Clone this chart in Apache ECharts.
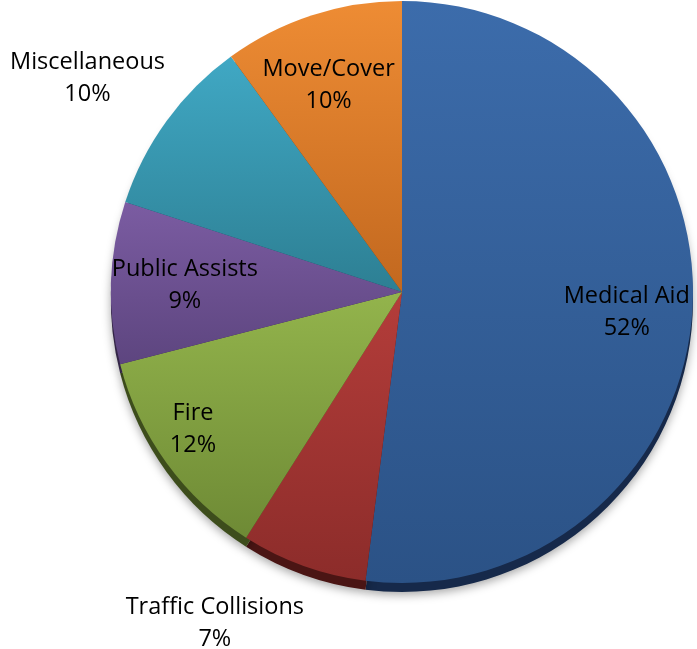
<!DOCTYPE html>
<html>
<head>
<meta charset="utf-8">
<script src="https://cdn.jsdelivr.net/npm/echarts@6/dist/echarts.min.js"></script>
<style>html,body{margin:0;padding:0;background:#fff;}#c{width:697px;height:649px;}</style>
</head>
<body>
<div id="c"></div>
<script>
var categories = ['Medical Aid', 'Traffic Collisions', 'Fire', 'Public Assists', 'Miscellaneous', 'Move/Cover'];
var values = [52, 7, 12, 9, 10, 10];
var topColors = ['#3c6cab', '#b43d3a', '#93b44c', '#7b5ca2', '#40a8c4', '#ee8c34'];
var bottomColors = ['#2b5286', '#8c2c2a', '#6e8a35', '#5d457f', '#2d7f93', '#c2681f'];
var rimColors = ['#16294a', '#4a1514', '#3d4d1c', '#332546', '#18475a', '#6e3a10'];
var outsideLabels = ['Miscellaneous', 'Traffic Collisions'];

var chart = echarts.init(document.getElementById('c'));
var R = 291;
var C = [402, 292];
var font = { fontFamily: 'Open Sans', fontSize: 23.5, lineHeight: 32, color: '#000' };

function grad(i) {
  return new echarts.graphic.LinearGradient(0, 0, 0, 1, [
    { offset: 0, color: topColors[i] }, { offset: 1, color: bottomColors[i] }
  ]);
}

var labelOffsets = {
  'Traffic Collisions': [-58, -27],
  'Miscellaneous': [-6, 10],
  'Fire': [-30, 7],
  'Medical Aid': [4, 6],
  'Public Assists': [4, 0],
  'Move/Cover': [-5, 4]
};

var mainData = categories.map(function (c, i) {
  return { name: c, value: values[i], itemStyle: { color: grad(i) } };
});
var rimData = categories.map(function (c, i) {
  return { name: c, value: values[i], itemStyle: { color: rimColors[i] } };
});
var insideData = categories.map(function (c, i) {
  return { name: c, value: values[i], label: { show: outsideLabels.indexOf(c) < 0, offset: labelOffsets[c] } };
});
var outsideData = categories.map(function (c, i) {
  return { name: c, value: values[i], label: { show: outsideLabels.indexOf(c) >= 0, offset: labelOffsets[c] } };
});

chart.setOption({
  animation: false,
  series: [
    {
      type: 'pie', center: [C[0], C[1] + 9], radius: R, startAngle: 90, silent: true,
      data: rimData, label: { show: false }, labelLine: { show: false },
      itemStyle: { shadowBlur: 10, shadowColor: 'rgba(0,0,0,0.35)', shadowOffsetY: 3 }
    },
    {
      type: 'pie', center: C, radius: R, startAngle: 90, silent: true,
      data: mainData, label: { show: false }, labelLine: { show: false },
      itemStyle: { borderWidth: 0 }
    },
    {
      type: 'pie', center: C, radius: [R * 0.5, R], startAngle: 90, silent: true,
      data: insideData, itemStyle: { color: 'rgba(0,0,0,0)' },
      label: Object.assign({ position: 'inside', formatter: '{b}\n{d}%' }, font),
      labelLine: { show: false }
    },
    {
      type: 'pie', center: C, radius: [R, R * 1.6], startAngle: 90, silent: true,
      data: outsideData, itemStyle: { color: 'rgba(0,0,0,0)' },
      label: Object.assign({ position: 'inside', formatter: '{b}\n{d}%' }, font),
      labelLine: { show: false }
    }
  ]
});
</script>
</body>
</html>
